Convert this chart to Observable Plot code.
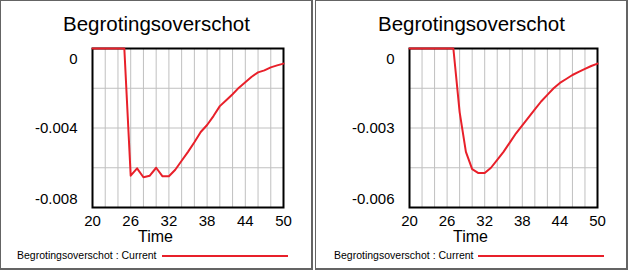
<!DOCTYPE html>
<html>
<head>
<meta charset="utf-8">
<script src="https://cdn.jsdelivr.net/npm/d3@7"></script>
<script src="https://cdn.jsdelivr.net/npm/@observablehq/plot@0.6"></script>
<style>
  html, body { margin: 0; padding: 0; background: #fff; }
  body { width: 628px; height: 270px; position: relative; overflow: hidden;
         font-family: "Liberation Sans", Arial, sans-serif; color: #000; }
  .panel { position: absolute; top: 0; width: 313px; height: 270px; }
  .border { position: absolute; left: 0; top: 0; right: 0; bottom: 0; box-sizing: border-box;
            border-left: 1px solid #646464; border-top: 1px solid #646464;
            border-right: 2px solid #646464; border-bottom: 2px solid #646464; }
  .title { position: absolute; left: 0; width: 313px; top: 14px; text-align: center;
           font-size: 20.5px; line-height: 20px; white-space: nowrap; }
  .chart { position: absolute; left: 0; top: 40px; }
  .time { position: absolute; left: 0; width: 311px; top: 229px; text-align: center;
          font-size: 16px; line-height: 16px; }
  .legend { position: absolute; top: 250px; font-size: 10.5px; line-height: 11px; white-space: nowrap; }
  .swatch { position: absolute; top: 255px; height: 2px; }
</style>
</head>
<body>
<div class="panel" id="p1" style="left:0">
  <div class="border"></div>
  <div class="title" id="t1"></div>
  <div class="chart" id="c1"></div>
  <div class="time">Time</div>
  <div class="legend" id="l1" style="left:17px"></div>
  <div class="swatch" id="s1" style="left:162px; width:126px"></div>
</div>
<div class="panel" id="p2" style="left:315px">
  <div class="border"></div>
  <div class="title" id="t2"></div>
  <div class="chart" id="c2"></div>
  <div class="time">Time</div>
  <div class="legend" id="l2" style="left:19px"></div>
  <div class="swatch" id="s2" style="left:163px; width:126px"></div>
</div>
<script>
const title = "Begrotingsoverschot";
const legendLabel = "Begrotingsoverschot : Current";
const xLabel = "Time";
const lineColor = "#e8202a";

const years = [20,21,22,23,24,25,26,27,28,29,30,31,32,33,34,35,36,37,38,39,40,41,42,43,44,45,46,47,48,49,50];

const valuesLeft = [0,0,0,0,0,0,
  -0.0064,-0.00603,-0.00648,-0.0064,-0.0060,-0.00643,-0.00643,-0.0061,-0.00565,-0.0052,
  -0.00472,-0.0042,-0.00385,-0.0034,-0.0029,-0.0026,-0.0023,-0.00197,-0.0017,-0.00142,
  -0.0012,-0.0011,-0.00095,-0.00085,-0.00076];

const valuesRight = [0,0,0,0,0,0,0,0,
  -0.0024,-0.0039,-0.00455,-0.0047,-0.0047,-0.0045,-0.0042,-0.0039,
  -0.00355,-0.0032,-0.0029,-0.0026,-0.0023,-0.002,-0.00175,-0.0015,-0.0013,-0.00115,
  -0.001,-0.00088,-0.00077,-0.00066,-0.00057];

const xTicks = [20,26,32,38,44,50];
const xGrid = [22,24,26,28,30,32,34,36,38,40,42,44,46,48];

const yDomainLeft = [-0.008, 0];
const yTicksLeft = [0, -0.004, -0.008];
const yGridLeft = [-0.002, -0.004, -0.006];

const yDomainRight = [-0.006, 0];
const yTicksRight = [0, -0.003, -0.006];
const yGridRight = [-0.0015, -0.003, -0.0045];

function makeChart(values, yDomain, yTicks, yGrid, marginLeft, marginRight) {
  const data = years.map((t, i) => ({t, v: values[i]}));
  const fmt = d => d === 0 ? "0" : d3.format(".3f")(d).replace("−", "-");
  const axisCommon = {tickSize: 0, tickPadding: 15, fontSize: 15, label: null, tickFormat: fmt};
  return Plot.plot({
    width: 313,
    height: 190,
    marginLeft, marginRight,
    marginTop: 8,
    marginBottom: 23,
    style: {fontFamily: '"Liberation Sans", Arial, sans-serif', color: "#000", background: "transparent", overflow: "visible"},
    x: {domain: [20, 50]},
    y: {domain: yDomain},
    marks: [
      Plot.gridX(xGrid, {stroke: "#c0c0c0", strokeOpacity: 1}),
      Plot.gridY(yGrid, {stroke: "#c0c0c0", strokeOpacity: 1}),
      Plot.frame({stroke: "#000", strokeWidth: 2}),
      Plot.axisX({ticks: xTicks, tickSize: 0, tickPadding: 8, fontSize: 15, label: null}),
      Plot.axisY({...axisCommon, ticks: [yTicks[0]], dy: 10.5}),
      Plot.axisY({...axisCommon, ticks: [yTicks[1]], dy: 0}),
      Plot.axisY({...axisCommon, ticks: [yTicks[2]], dy: -8.5}),
      Plot.line(data, {x: "t", y: "v", stroke: lineColor, strokeWidth: 2})
    ]
  });
}

document.getElementById("c1").appendChild(makeChart(valuesLeft, yDomainLeft, yTicksLeft, yGridLeft, 92, 30));
document.getElementById("c2").appendChild(makeChart(valuesRight, yDomainRight, yTicksRight, yGridRight, 94, 31));
for (const id of ["t1", "t2"]) document.getElementById(id).textContent = title;
for (const id of ["l1", "l2"]) document.getElementById(id).textContent = legendLabel;
for (const id of ["s1", "s2"]) document.getElementById(id).style.background = lineColor;
</script>
</body>
</html>
